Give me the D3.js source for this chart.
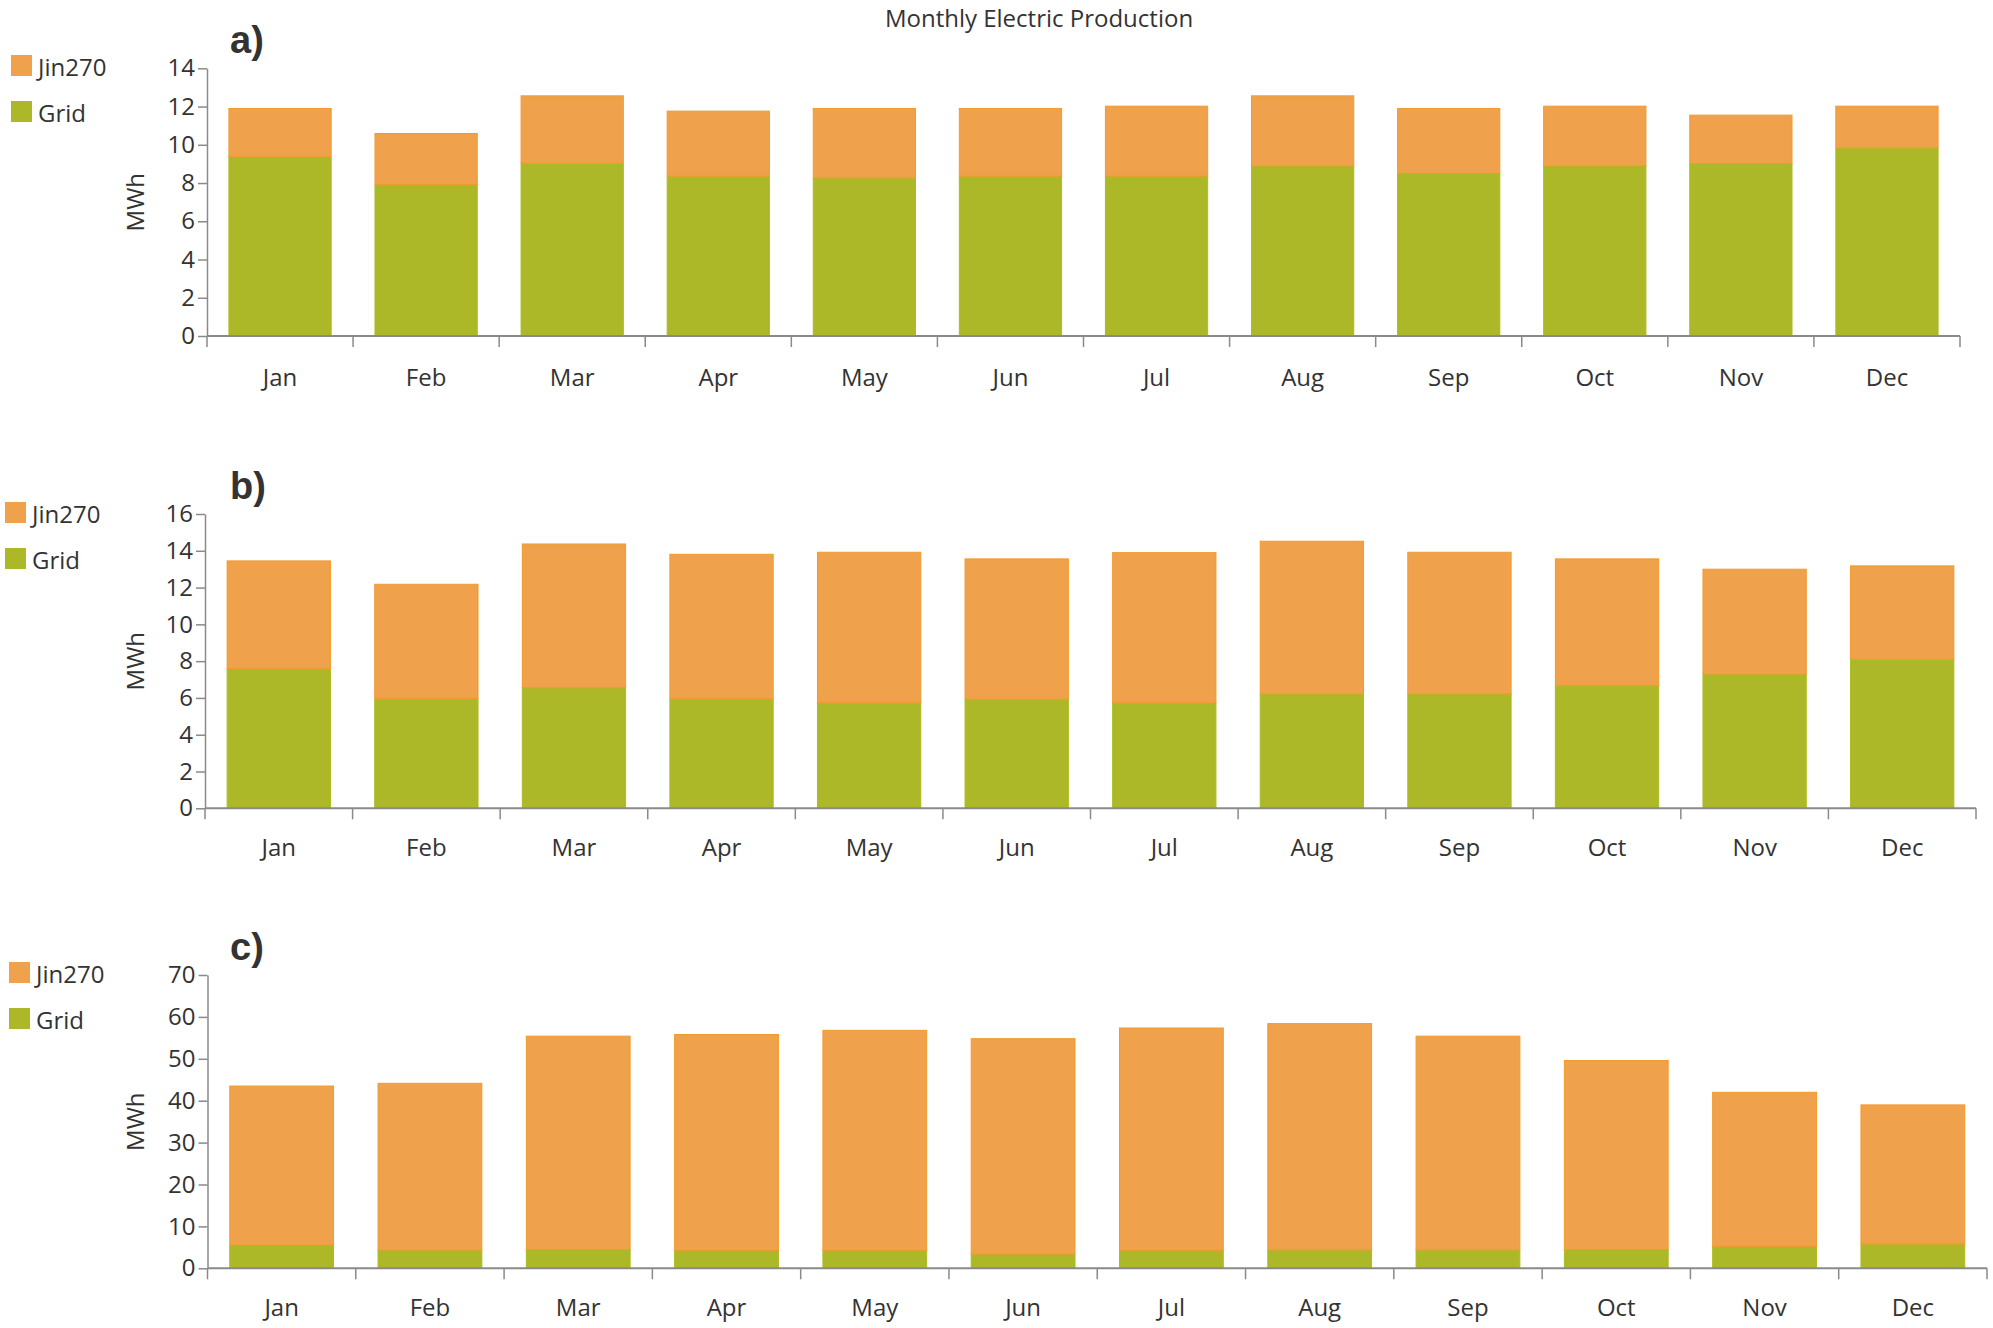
<!DOCTYPE html>
<html>
<head>
<meta charset="utf-8">
<script src="https://cdn.jsdelivr.net/npm/d3@7"></script>
<style>
  html, body { margin: 0; padding: 0; background: #fff; }
  svg text { font-family: "Open Sans", "Noto Sans", sans-serif; fill: #333; }
</style>
</head>
<body>
<svg id="chart" width="1993" height="1328"></svg>
<script>
// ---------- data ----------
const months = ["Jan","Feb","Mar","Apr","May","Jun","Jul","Aug","Sep","Oct","Nov","Dec"];
const seriesNames = ["Jin270", "Grid"];

// panel a)
const gridA   = [9.38, 7.93, 9.04, 8.36, 8.27, 8.36, 8.36, 8.90, 8.50, 8.90, 9.02, 9.84];
const jinA    = [2.52, 2.66, 3.52, 3.40, 3.63, 3.54, 3.66, 3.66, 3.40, 3.12, 2.53, 2.18];
const ticksA  = [0, 2, 4, 6, 8, 10, 12, 14];

// panel b)
const gridB   = [7.59, 5.96, 6.56, 5.96, 5.74, 5.93, 5.74, 6.22, 6.22, 6.67, 7.30, 8.10];
const jinB    = [5.86, 6.22, 7.81, 7.85, 8.18, 7.63, 8.16, 8.30, 7.70, 6.89, 5.70, 5.08];
const ticksB  = [0, 2, 4, 6, 8, 10, 12, 14, 16];

// panel c)
const gridC   = [5.56, 4.37, 4.50, 4.30, 4.30, 3.40, 4.30, 4.40, 4.40, 4.50, 5.25, 5.80];
const jinC    = [37.94, 39.78, 50.90, 51.50, 52.50, 51.40, 53.05, 54.00, 51.00, 45.10, 36.75, 33.20];
const ticksC  = [0, 10, 20, 30, 40, 50, 60, 70];

const title = "Monthly Electric Production";
const yLabel = "MWh";

// ---------- style / layout ----------
const colors = { Jin270: "#EFA24B", Grid: "#ACB828" };
const strokes = { Jin270: "#F39A2C", Grid: "#A9BE1E" };
const axisColor = "#8a8a8a";

const panels = [
  { tag: "a)", grid: gridA, jin: jinA, ticks: ticksA, x0: 207, x1: 1960, y0: 336,    yTop: 68.3, legY: 55,  labelDy: 40 },
  { tag: "b)", grid: gridB, jin: jinB, ticks: ticksB, x0: 205, x1: 1976, y0: 808.3,  yTop: 514,  legY: 502, labelDy: 38.5 },
  { tag: "c)", grid: gridC, jin: jinC, ticks: ticksC, x0: 207.5, x1: 1987, y0: 1268.3, yTop: 975, legY: 962, labelDy: 38.5 }
];
const legendX = [11, 5, 9];

const svg = d3.select("#chart");

svg.append("text")
  .attr("x", 1039).attr("y", 17)
  .attr("text-anchor", "middle").attr("dominant-baseline", "central")
  .style("font-size", "24px")
  .text(title);

panels.forEach((p, pi) => {
  const g = svg.append("g");
  const x = d3.scaleBand().domain(months).range([p.x0, p.x1]).paddingInner(0.3).paddingOuter(0.15);
  const y = d3.scaleLinear().domain([0, d3.max(p.ticks)]).range([p.y0, p.yTop]);

  const rows = months.map((m, i) => ({ month: m, Grid: p.grid[i], Jin270: p.jin[i] }));
  const stacked = d3.stack().keys(["Grid", "Jin270"])(rows);

  stacked.forEach(layer => {
    g.append("g").selectAll("rect").data(layer).join("rect")
      .attr("x", d => x(d.data.month))
      .attr("width", x.bandwidth())
      .attr("y", d => y(d[1]))
      .attr("height", d => y(d[0]) - y(d[1]))
      .attr("fill", colors[layer.key])
      .attr("stroke", strokes[layer.key])
      .attr("stroke-width", 1);
  });

  // y axis
  const yAxis = d3.axisLeft(y).tickValues(p.ticks).tickSize(9).tickPadding(3).tickSizeOuter(0);
  const ya = g.append("g").attr("transform", `translate(${p.x0},0)`).call(yAxis);
  ya.select(".domain").attr("stroke", axisColor).attr("stroke-width", 1.5);
  ya.selectAll(".tick line").attr("stroke", axisColor).attr("stroke-width", 1.5);
  ya.selectAll(".tick text").style("font-size", "24px").attr("fill", "#333").style("font-family", '"Open Sans", sans-serif');

  // x axis baseline
  g.append("line").attr("x1", p.x0).attr("x2", p.x1).attr("y1", p.y0).attr("y2", p.y0)
    .attr("stroke", axisColor).attr("stroke-width", 2);
  // boundary ticks
  const bounds = months.map(m => x(m) - x.step() * x.paddingOuter()).concat([p.x1]);
  g.selectAll(".btick").data(bounds).join("line")
    .attr("x1", d => d).attr("x2", d => d)
    .attr("y1", p.y0).attr("y2", p.y0 + 11)
    .attr("stroke", axisColor).attr("stroke-width", 1.5);
  // month labels
  g.selectAll(".mlab").data(months).join("text")
    .attr("x", d => x(d) + x.bandwidth() / 2)
    .attr("y", p.y0 + p.labelDy)
    .attr("text-anchor", "middle").attr("dominant-baseline", "central")
    .style("font-size", "24px")
    .text(d => d);

  // y label
  g.append("text")
    .attr("transform", `translate(134,${(p.y0 + p.yTop) / 2}) rotate(-90)`)
    .attr("text-anchor", "middle").attr("dominant-baseline", "central")
    .style("font-size", "24px")
    .text(yLabel);

  // panel tag
  g.append("text")
    .attr("x", 230).attr("y", p.yTop - 28)
    .attr("dominant-baseline", "central")
    .style("font-family", '"Liberation Sans", Arial, sans-serif')
    .style("font-weight", "bold").style("font-size", "38px").attr("fill", "#000")
    .text(p.tag);

  // legend
  seriesNames.forEach((s, si) => {
    const ly = p.legY + si * 46;
    g.append("rect").attr("x", legendX[pi]).attr("y", ly).attr("width", 21).attr("height", 21)
      .attr("fill", colors[s]);
    g.append("text").attr("x", legendX[pi] + 27).attr("y", ly + 11)
      .attr("dominant-baseline", "central").style("font-size", "24px")
      .text(s);
  });
});
</script>
</body>
</html>
